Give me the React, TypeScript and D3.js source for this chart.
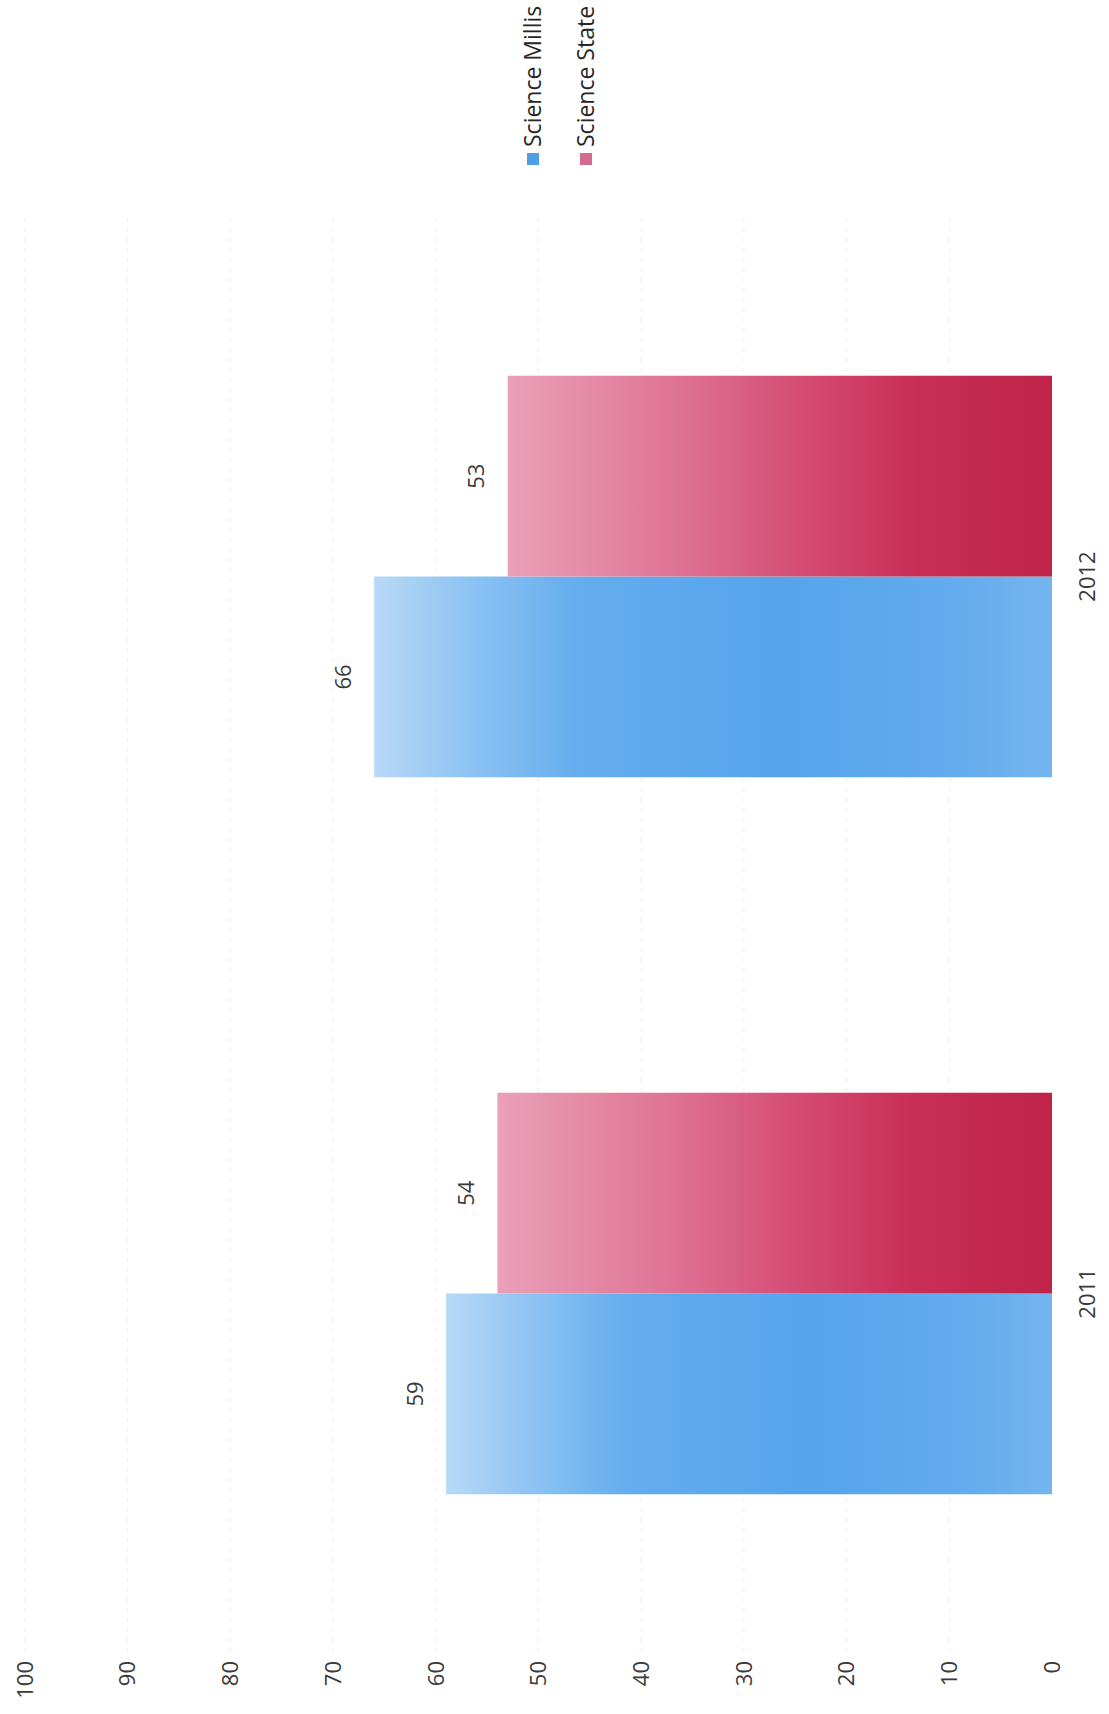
import React from "react";
import * as d3 from "d3";

const categories = ["2011", "2012"];
const seriesNames = ["Science Millis", "Science State"];
const millisValues = [59, 66];
const stateValues = [54, 53];
const tickValues = [0, 10, 20, 30, 40, 50, 60, 70, 80, 90, 100];

const W = 1109;
const H = 1714;
// Drawing in the chart's own (unrotated) frame: width = H, height = W
const FONT = "'Open Sans', 'Liberation Sans', sans-serif";
const TEXT = "#3a3a3a";

export default function App() {
  const x = d3.scaleBand<string>().domain(categories).range([62, 1496]).paddingInner(0.44).paddingOuter(0.22);
  const xs = d3.scaleBand<string>().domain(seriesNames).range([0, x.bandwidth()]);
  const y = d3.scaleLinear().domain([0, 100]).range([1052, 25]);

  const series = [
    { name: seriesNames[0], values: millisValues, grad: "gBlue", sw: "#4f9fe8" },
    { name: seriesNames[1], values: stateValues, grad: "gRed", sw: "#d66a8c" },
  ];

  return (
    <svg width={W} height={H} style={{ position: "absolute", left: 0, top: 0, background: "#fff" }} fontFamily={FONT}>
      <defs>
        <linearGradient id="gBlue" x1="0" y1="0" x2="0" y2="1">
          <stop offset="0" stopColor="#b8d9f7" />
          <stop offset="0.12" stopColor="#93c6f3" />
          <stop offset="0.3" stopColor="#64adee" />
          <stop offset="0.6" stopColor="#55a4ec" />
          <stop offset="0.85" stopColor="#62abed" />
          <stop offset="1" stopColor="#74b5ef" />
        </linearGradient>
        <linearGradient id="gRed" x1="0" y1="0" x2="0" y2="1">
          <stop offset="0" stopColor="#eaa0b8" />
          <stop offset="0.3" stopColor="#df7597" />
          <stop offset="0.55" stopColor="#d44a72" />
          <stop offset="0.75" stopColor="#c92e57" />
          <stop offset="1" stopColor="#bf2348" />
        </linearGradient>
      </defs>
      <rect width={W} height={H} fill="#fff" />
      <g transform={`translate(0, ${H}) rotate(-90)`}>
        {tickValues.map((t) => (
          <g key={t}>
            {t > 0 && (
              <line x1={62} x2={1496} y1={y(t)} y2={y(t)} stroke="#ededed" strokeWidth={1} strokeDasharray="4,6" />
            )}
            <text x={53} y={y(t)} dy="0.35em" textAnchor="end" fontSize={22} fill={TEXT}>
              {t}
            </text>
          </g>
        ))}
        {categories.map((c, i) => (
          <g key={c} transform={`translate(${x(c)},0)`}>
            {series.map((s) => {
              const bx = xs(s.name)!;
              const v = s.values[i];
              return (
                <g key={s.name}>
                  <rect x={bx} y={y(v)} width={xs.bandwidth()} height={y(0) - y(v)} fill={`url(#${s.grad})`} />
                  <text x={bx + xs.bandwidth() / 2} y={y(v) - 31} dy="0.35em" textAnchor="middle" fontSize={22} fill={TEXT}>
                    {v}
                  </text>
                </g>
              );
            })}
            <text x={x.bandwidth() / 2} y={1087} dy="0.35em" textAnchor="middle" fontSize={22} fill={TEXT}>
              {c}
            </text>
          </g>
        ))}
        {series.map((s, i) => {
          const v = 533 + i * 53;
          return (
            <g key={s.name}>
              <rect x={1549} y={v - 6} width={12} height={12} fill={s.sw} />
              <text x={1567} y={v} dy="0.35em" fontSize={23} fill="#262626">
                {s.name}
              </text>
            </g>
          );
        })}
      </g>
    </svg>
  );
}
